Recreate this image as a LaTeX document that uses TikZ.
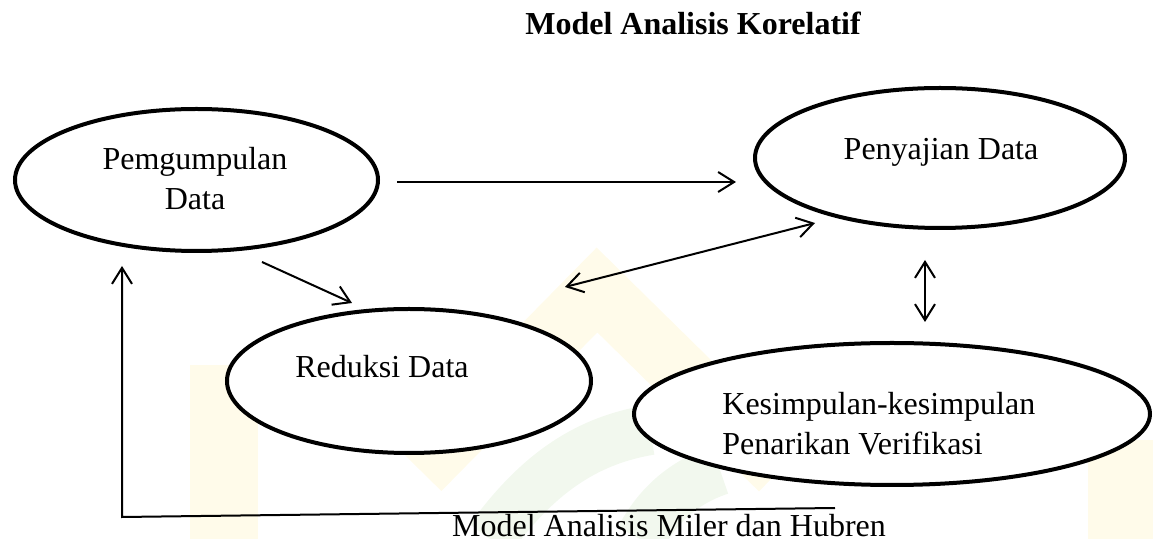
\documentclass[tikz,border=0pt]{standalone}
\usepackage{fontspec}
\setmainfont{Liberation Serif}
\usetikzlibrary{shapes.geometric,arrows.meta}
\definecolor{wmyellow}{HTML}{FFFBEA}
\definecolor{wmgreen}{HTML}{F2F8EE}
\begin{document}
\begin{tikzpicture}[x=0.5pt,y=-0.5pt,
  oval/.style={ellipse,draw,line width=2pt,inner sep=0pt},
  lbl/.style={font=\fontsize{16}{20}\selectfont,anchor=base,inner sep=0pt},
  tip/.tip={Straight Barb[length=8pt,width=10pt,line width=1pt]},
  conn/.style={line width=1pt,-tip},
  bconn/.style={line width=1pt,tip-tip},
  wmband/.style={line width=30pt,line join=miter}]
\useasboundingbox (0,0) rectangle (1153,539);
% faint watermark
\fill[wmyellow] (190,365) rectangle (258,539);
\fill[wmyellow] (1088,440) rectangle (1153,539);
\draw[wmband,wmyellow] (420,470) -- (597,290) -- (780,470);
\draw[wmgreen,line width=25pt] (490,539) .. controls (540,470) and (590,440) .. (650,430);
\draw[wmgreen,line width=25pt] (640,539) .. controls (660,500) and (690,480) .. (720,470);
% title
\node[lbl,font=\fontsize{16}{20}\selectfont\bfseries] (title) at (693,35) {Model Analisis Korelatif};
% ovals
\node[oval,fill=white,minimum width=181.5pt,minimum height=71pt] (pd) at (196.5,180) {};
\node[oval,fill=white,minimum width=185pt,minimum height=70pt] (sd) at (940,158) {};
\node[oval,fill=white,minimum width=182pt,minimum height=72pt] (rd) at (409,381) {};
\node[oval,fill=white,minimum width=258pt,minimum height=71pt] (ks) at (892,414) {};
% labels
\node[lbl] (pdt1) at (195,170) {Pemgumpulan};
\node[lbl] (pdt2) at (195,210) {Data};
\node[lbl] (sdt) at (941,160) {Penyajian Data};
\node[lbl] (rdt) at (382,378) {Reduksi Data};
\node[lbl,anchor=base west] (kst1) at (722,415) {Kesimpulan-kesimpulan};
\node[lbl,anchor=base west] (kst2) at (722,455) {Penarikan Verifikasi};
\node[lbl] (cap) at (669,537) {Model Analisis Miler dan Hubren};
% connector ends
\coordinate (h1) at (397,182);
\coordinate (h2) at (736,182);
\coordinate (a1) at (262,262);
\coordinate (a2) at (352,303);
\coordinate (d1) at (565,287);
\coordinate (d2) at (815,223);
\coordinate (v1) at (925,260);
\coordinate (v2) at (925,322);
\coordinate (fbR) at (835,508);
\coordinate (fbL) at (122,517);
\coordinate (fbT) at (122,266);
% connectors
\draw[conn] (h1) -- (h2);
\draw[conn] (a1) -- (a2);
\draw[bconn] (d1) -- (d2);
\draw[bconn] (v1) -- (v2);
\draw[conn] (fbR) -- (fbL) -- (fbT);
\end{tikzpicture}
\end{document}
